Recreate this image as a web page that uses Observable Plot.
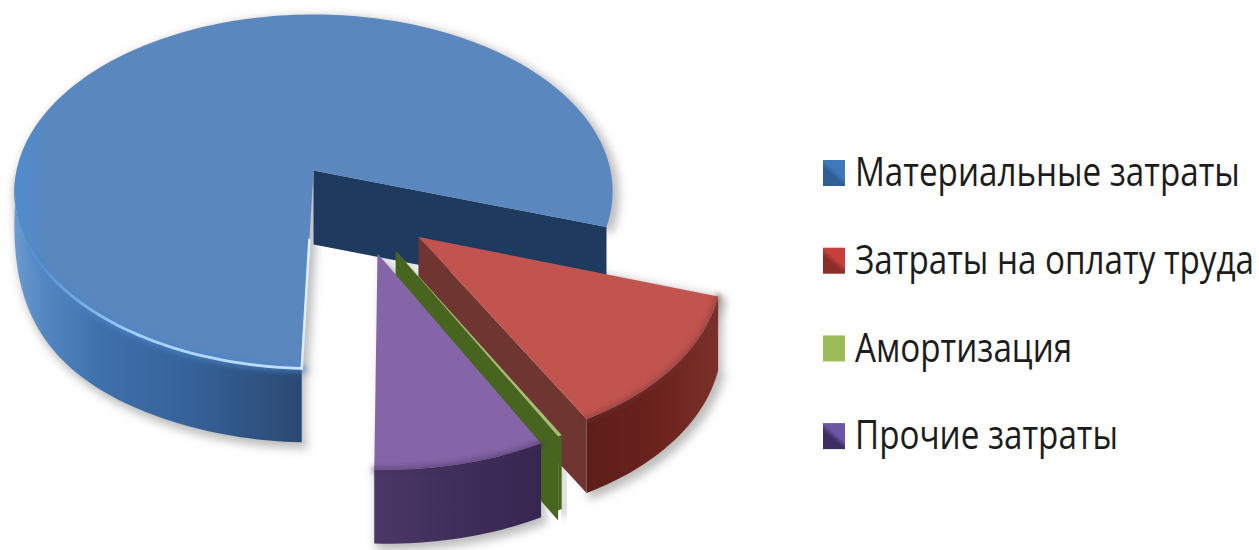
<!DOCTYPE html>
<html lang="ru">
<head>
<meta charset="utf-8">
<title>Структура затрат</title>
<script src="https://cdn.jsdelivr.net/npm/d3@7"></script>
<script src="https://cdn.jsdelivr.net/npm/@observablehq/plot@0.6"></script>
<style>
  html, body { margin: 0; padding: 0; background: #fff; }
  svg { display: block; }
</style>
</head>
<body>
<div id="chart"></div>
<script>
// Cost structure, percent of the total
const categories = ["Материальные затраты", "Затраты на оплату труда", "Амортизация", "Прочие затраты"];
const shares = [79.5, 12.25, 0.2, 8.05];
const topColors = ["#5a87bd", "#c2544f", "#a5bd74", "#8565a8"];
const sideColors = ["#1e3a5f", "#6f3530", "#47651f", "#3d2c58"];
const wallPaints = ["url(#wallBlue)", "url(#wallRed)", "#47651f", "url(#wallPurple)"];
const swatchPaints = ["url(#swatchBlue)", "url(#swatchRed)", "#9bbb59", "url(#swatchPurple)"];

// Pie geometry on the ground plane: start angle (degrees clockwise from east),
// exploded slice offsets and radii, then the perspective applied to the plane.
const startAngle = 92;
const offsetU = [0, 0.338, 0.262, 0.204];
const offsetV = [0, 0.364, 0.435, 0.45];
const radii = [1, 0.965, 0.96, 0.975];
const depth = 74;
const radialDepths = [74, 74, 84, 74];
const persp = {x0: 313, y0: 170, a: 297, b: 174.5, k: 0.1186};

function project(u, v, drop = 0) {
  const w = 1 - persp.k * v;
  return {x: persp.x0 + persp.a * u / w, y: persp.y0 + persp.b * v / w + drop};
}

// Turn the shares into slices with an apex and a sampled rim
let cursor = startAngle;
const slices = categories.map((name, i) => {
  const a0 = cursor, a1 = cursor + shares[i] * 3.6;
  cursor = a1;
  const at = (deg, drop = 0) => {
    const t = deg * Math.PI / 180;
    return project(offsetU[i] + radii[i] * Math.cos(t), offsetV[i] + radii[i] * Math.sin(t), drop);
  };
  const n = Math.max(2, Math.ceil((a1 - a0) / 1.5));
  const angles = d3.range(n + 1).map(j => a0 + (a1 - a0) * j / n);
  return {name, i, a0, a1, at, angles, apex: (drop = 0) => project(offsetU[i], offsetV[i], drop)};
});

const topFace = s => [s.apex(0), ...s.angles.map(a => s.at(a))];

// Rim angles whose outer wall is visible; the large slice only shows its south-west run
const frontAngles = s => s.i === 0 ? s.angles.filter(a => a <= 180) : s.angles;

// The wall of the large slice rounds off toward its western extreme
const wallDrop = (s, a) => {
  if (s.i !== 0 || a <= 125) return depth;
  return depth * (1 - Math.pow((a - 125) / 55, 3) * 0.8);
};
const wall = s => {
  const angles = frontAngles(s);
  return [...angles.map(a => s.at(a)), ...[...angles].reverse().map(a => s.at(a, wallDrop(s, a)))];
};
const radialWall = (s, a, d) => [s.apex(0), s.at(a), s.at(a, d), s.apex(d)];

// Applies an SVG filter to the group a mark renders
const withFilter = id => (index, scales, values, dims, context, next) => {
  const g = next(index, scales, values, dims, context);
  g.setAttribute("filter", `url(#${id})`);
  return g;
};

const shape = (points, fill, extra = {}) =>
  Plot.line(points, {x: "x", y: "y", fill, stroke: "none", curve: "linear", ...extra});

function defs() {
  const root = d3.create("svg:defs");
  const grad = (id, x1, x2, stops, y1 = 0, y2 = 0) => {
    const g = root.append("linearGradient").attr("id", id)
      .attr("gradientUnits", "userSpaceOnUse")
      .attr("x1", x1).attr("x2", x2).attr("y1", y1).attr("y2", y2);
    for (const [o, c] of stops) g.append("stop").attr("offset", o).attr("stop-color", c);
  };
  grad("wallBlue", 14, 305, [[0, "#6c9ad0"], [0.1, "#5487c2"], [0.3, "#3e70ab"], [0.6, "#36629a"], [1, "#2a4870"]]);
  grad("wallRed", 580, 720, [[0, "#5c1e19"], [0.5, "#6a221d"], [1, "#7c3029"]]);
  grad("wallPurple", 372, 540, [[0, "#4c3866"], [0.5, "#3f2e5a"], [1, "#362650"]]);
  grad("topBlue", 14, 50, [[0, "#4f8ccd"], [1, "#5a87bd"]]);
  grad("rimLight", 40, 300, [[0, "#5a90ce"], [0.35, "#a5d0f2"], [1, "#c5e4fa"]]);
  const swatch = (id, y0, dark, light) => grad(id, 823, 845,
    [[0, dark], [0.42, dark], [0.58, light], [1, light]], y0 + 26, y0);
  swatch("swatchBlue", 160, "#2f5f95", "#3f79ba");
  swatch("swatchRed", 248, "#8c2d2a", "#c4403c");
  swatch("swatchPurple", 423, "#3d2f66", "#6d57a5");
  const blur = (id, sd) => root.append("filter").attr("id", id)
    .attr("x", "-20%").attr("y", "-20%").attr("width", "140%").attr("height", "140%")
    .append("feGaussianBlur").attr("stdDeviation", sd);
  blur("soft5", 5);
  blur("soft2", 2.5);
  blur("soft1", 0.7);
  return root.node();
}

const marks = [() => defs()];

// Soft drop shadow around every slice
for (const s of slices) {
  for (const pts of [topFace(s), wall(s)]) {
    marks.push(shape(pts.map(p => ({x: p.x + 4, y: p.y + 4})), "#8f8f8f", {
      stroke: "#8f8f8f", strokeWidth: 5, opacity: 0.6, render: withFilter("soft5")
    }));
  }
}

// Slices painted back to front
for (const s of slices) {
  marks.push(shape(wall(s), wallPaints[s.i]));
  if (s.i <= 2) marks.push(shape(radialWall(s, s.a1, radialDepths[s.i]), sideColors[s.i]));
  marks.push(shape(topFace(s), s.i === 0 ? "url(#topBlue)" : topColors[s.i]));
  // Bevel along the viewer-facing rim
  if (s.i === 0) {
    const lit = s.angles.filter(a => a >= 92 && a <= 155);
    marks.push(Plot.line(lit.map(a => s.at(a)), {x: "x", y: "y", stroke: "#4b86cc", strokeWidth: 9, strokeOpacity: 0.6, render: withFilter("soft2")}));
    marks.push(Plot.line(lit.map(a => s.at(a)), {x: "x", y: "y", stroke: "url(#rimLight)", strokeWidth: 2.8, render: withFilter("soft1")}));
    // Light catching the cut edge of the large slice
    const edge = [0.35, 1].map(f => {
      const a = s.apex(0), b = s.at(s.a0);
      return {x: a.x + (b.x - a.x) * f, y: a.y + (b.y - a.y) * f};
    });
    marks.push(Plot.line(edge, {x: "x", y: "y", stroke: "#dceefb", strokeWidth: 2.5, render: withFilter("soft1")}));
  } else if (s.i !== 2) {
    marks.push(Plot.line(s.angles.map(a => s.at(a)), {x: "x", y: "y", stroke: sideColors[s.i], strokeWidth: 6, strokeOpacity: 0.45, render: withFilter("soft2")}));
  }
}

// Legend
const legend = categories.map((name, i) => ({name, i, paint: swatchPaints[i]}));
const rowTop = i => 160 + i * 87.7;
const legendX = 855, squeeze = 0.81;
marks.push(
  Plot.rect(legend, {x1: () => 823, x2: () => 845, y1: d => rowTop(d.i), y2: d => rowTop(d.i) + 26, fill: d => d.paint}),
  Plot.text(legend, {
    x: () => legendX, y: d => rowTop(d.i) + 13, text: "name", textAnchor: "start",
    fontFamily: "'Open Sans', sans-serif", fontSize: 41, fill: "#1c1c1c",
    // The labels are set in a condensed cut of the face
    render(index, scales, values, dims, context, next) {
      const g = next(index, scales, values, dims, context);
      g.setAttribute("transform", `translate(${legendX} 0) scale(${squeeze} 1) translate(${-legendX} 0)`);
      return g;
    }
  })
);

const chart = Plot.plot({
  width: 1259, height: 550,
  margin: 0,
  x: {domain: [0, 1259], range: [0, 1259], axis: null},
  y: {domain: [0, 550], range: [0, 550], axis: null},
  color: {type: "identity"},
  style: {background: "#fff", overflow: "visible"},
  marks
});
document.getElementById("chart").append(chart);
</script>
</body>
</html>
